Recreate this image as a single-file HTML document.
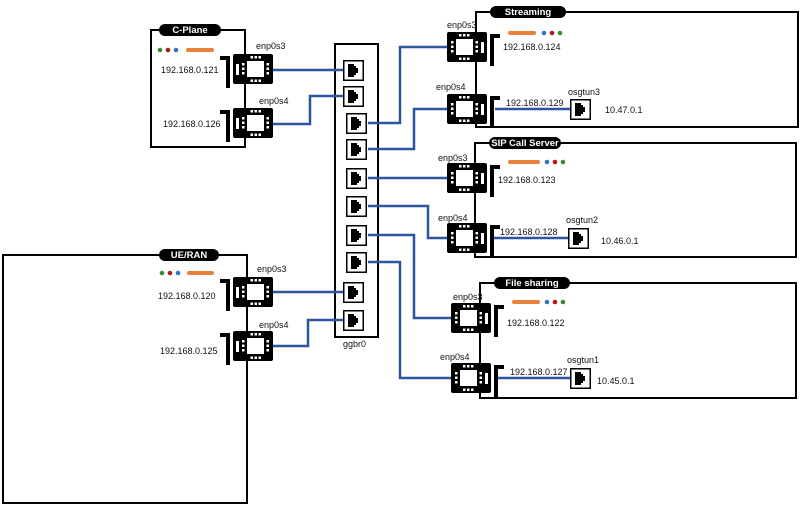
<!DOCTYPE html>
<html><head><meta charset="utf-8"><style>
html,body{margin:0;padding:0;background:#fff;}
svg{display:block;}
text{font-family:"Liberation Sans",sans-serif;font-size:9px;fill:#111;}
.lbl{fill:#fff;font-weight:bold;font-size:9.5px;}
</style></head><body>
<svg width="800" height="506" viewBox="0 0 800 506" xmlns="http://www.w3.org/2000/svg">
<defs>
<g id="nic">
  <rect x="0" y="0" width="40" height="30" rx="2" fill="#000"/>
  <rect x="9" y="7" width="17" height="16" fill="#fff"/>
  <rect x="12" y="2" width="2.5" height="2.5" fill="#fff"/><rect x="16" y="2" width="2.5" height="2.5" fill="#fff"/><rect x="20" y="2" width="2.5" height="2.5" fill="#fff"/>
  <rect x="12" y="25.5" width="2.5" height="2.5" fill="#fff"/><rect x="16" y="25.5" width="2.5" height="2.5" fill="#fff"/><rect x="20" y="25.5" width="2.5" height="2.5" fill="#fff"/>
  <rect x="4" y="9" width="2.5" height="2.5" fill="#fff"/><rect x="4" y="13.5" width="2.5" height="2.5" fill="#fff"/><rect x="4" y="18" width="2.5" height="2.5" fill="#fff"/>
  <rect x="28.5" y="9" width="2.5" height="2.5" fill="#fff"/><rect x="28.5" y="13.5" width="2.5" height="2.5" fill="#fff"/><rect x="28.5" y="18" width="2.5" height="2.5" fill="#fff"/>
  <rect x="34" y="10" width="3" height="11" fill="#fff"/>
  <path d="M43 2 H53 V6 H47 V34 H43 Z" fill="#000"/>
</g>
<g id="port">
  <rect x="0.75" y="0.75" width="19.5" height="19.5" fill="#fff" stroke="#000" stroke-width="1.5"/>
  <path d="M5 4 H11 V6 H13 V8 H15 V13 H13 V15 H11 V17 H5 Z" fill="#000"/>
</g>
</defs>

<g fill="none" stroke="#000" stroke-width="2">
  <rect x="151" y="30" width="94" height="117"/>
  <rect x="3" y="255" width="244" height="248"/>
  <rect x="335" y="44" width="43" height="293"/>
  <rect x="476" y="12" width="322" height="115"/>
  <rect x="475" y="143" width="321" height="114"/>
  <rect x="480" y="283" width="316" height="115"/>
</g>

<g fill="none" stroke="#2e55a0" stroke-width="2.5">
  <path d="M273 70 H346"/>
  <path d="M273 124 H310 V96 H346"/>
  <path d="M273 292 H346"/>
  <path d="M273 346 H308 V320 H346"/>
  <path d="M368 123 H400 V47 H448"/>
  <path d="M368 149 H414 V109 H448"/>
  <path d="M368 178 H448"/>
  <path d="M368 206 H428 V238 H448"/>
  <path d="M368 235 H414 V318 H452"/>
  <path d="M368 262 H400 V378 H452"/>
  <path d="M495 109 H570"/>
  <path d="M493 238 H568"/>
  <path d="M497 378 H570"/>
</g>

<use href="#port" x="343" y="60"/>
<use href="#port" x="343" y="86"/>
<use href="#port" x="346" y="113"/>
<use href="#port" x="346" y="139"/>
<use href="#port" x="346" y="168"/>
<use href="#port" x="346" y="196"/>
<use href="#port" x="346" y="225"/>
<use href="#port" x="346" y="252"/>
<use href="#port" x="343" y="282"/>
<use href="#port" x="343" y="310"/>
<text x="343" y="347">ggbr0</text>

<use href="#port" x="570" y="99"/>
<use href="#port" x="568" y="228"/>
<use href="#port" x="570" y="368"/>

<use href="#nic" transform="translate(273,54) scale(-1,1)"/>
<use href="#nic" transform="translate(273,108) scale(-1,1)"/>
<use href="#nic" transform="translate(273,277) scale(-1,1)"/>
<use href="#nic" transform="translate(273,331) scale(-1,1)"/>
<use href="#nic" x="447" y="32"/>
<use href="#nic" x="447" y="94"/>
<use href="#nic" x="447" y="163"/>
<use href="#nic" x="447" y="223"/>
<use href="#nic" x="451" y="303"/>
<use href="#nic" x="451" y="363"/>

<rect x="159" y="24" width="62" height="12" rx="6" fill="#000"/><text class="lbl" x="190" y="33" text-anchor="middle">C-Plane</text>
<rect x="159" y="249" width="60" height="12" rx="6" fill="#000"/><text class="lbl" x="189" y="258" text-anchor="middle">UE/RAN</text>
<rect x="490" y="6" width="76" height="12" rx="6" fill="#000"/><text class="lbl" x="528" y="15" text-anchor="middle">Streaming</text>
<rect x="489" y="137" width="72" height="12" rx="6" fill="#000"/><text class="lbl" x="525" y="146" text-anchor="middle">SIP Call Server</text>
<rect x="494" y="277" width="76" height="12" rx="6" fill="#000"/><text class="lbl" x="532" y="286" text-anchor="middle">File sharing</text>

<g>
  <circle cx="160" cy="50" r="2.3" fill="#3a8a3a"/><circle cx="168" cy="50" r="2.3" fill="#b01c1c"/><circle cx="176" cy="50" r="2.3" fill="#3a70c8"/>
  <rect x="186" y="48" width="28" height="4" rx="2" fill="#e8823a"/>
  <circle cx="162" cy="273" r="2.3" fill="#3a8a3a"/><circle cx="170" cy="273" r="2.3" fill="#b01c1c"/><circle cx="178" cy="273" r="2.3" fill="#3a70c8"/>
  <rect x="187" y="271" width="27" height="4" rx="2" fill="#e8823a"/>
  <rect x="508" y="31" width="28" height="4" rx="2" fill="#e8823a"/>
  <circle cx="544" cy="33" r="2.3" fill="#3a70c8"/><circle cx="552" cy="33" r="2.3" fill="#b01c1c"/><circle cx="560" cy="33" r="2.3" fill="#3a8a3a"/>
  <rect x="508" y="160" width="32" height="4" rx="2" fill="#e8823a"/>
  <circle cx="547" cy="162" r="2.3" fill="#3a70c8"/><circle cx="555" cy="162" r="2.3" fill="#b01c1c"/><circle cx="563" cy="162" r="2.3" fill="#3a8a3a"/>
  <rect x="512" y="300" width="28" height="4" rx="2" fill="#e8823a"/>
  <circle cx="547" cy="302" r="2.3" fill="#3a70c8"/><circle cx="555" cy="302" r="2.3" fill="#b01c1c"/><circle cx="563" cy="302" r="2.3" fill="#3a8a3a"/>
</g>

<text x="256" y="49">enp0s3</text>
<text x="259" y="104">enp0s4</text>
<text x="161" y="73">192.168.0.121</text>
<text x="163" y="127">192.168.0.126</text>
<text x="257" y="272">enp0s3</text>
<text x="259" y="328">enp0s4</text>
<text x="158" y="299">192.168.0.120</text>
<text x="160" y="354">192.168.0.125</text>

<text x="447" y="28">enp0s3</text>
<text x="503" y="50">192.168.0.124</text>
<text x="436" y="90">enp0s4</text>
<text x="506" y="106">192.168.0.129</text>
<text x="568" y="95">osgtun3</text>
<text x="605" y="113">10.47.0.1</text>

<text x="438" y="161">enp0s3</text>
<text x="498" y="183">192.168.0.123</text>
<text x="438" y="221">enp0s4</text>
<text x="500" y="235">192.168.0.128</text>
<text x="566" y="223">osgtun2</text>
<text x="601" y="244">10.46.0.1</text>

<text x="453" y="300">enp0s3</text>
<text x="507" y="326">192.168.0.122</text>
<text x="440" y="360">enp0s4</text>
<text x="510" y="375">192.168.0.127</text>
<text x="567" y="363">osgtun1</text>
<text x="597" y="384">10.45.0.1</text>
</svg>
</body></html>
